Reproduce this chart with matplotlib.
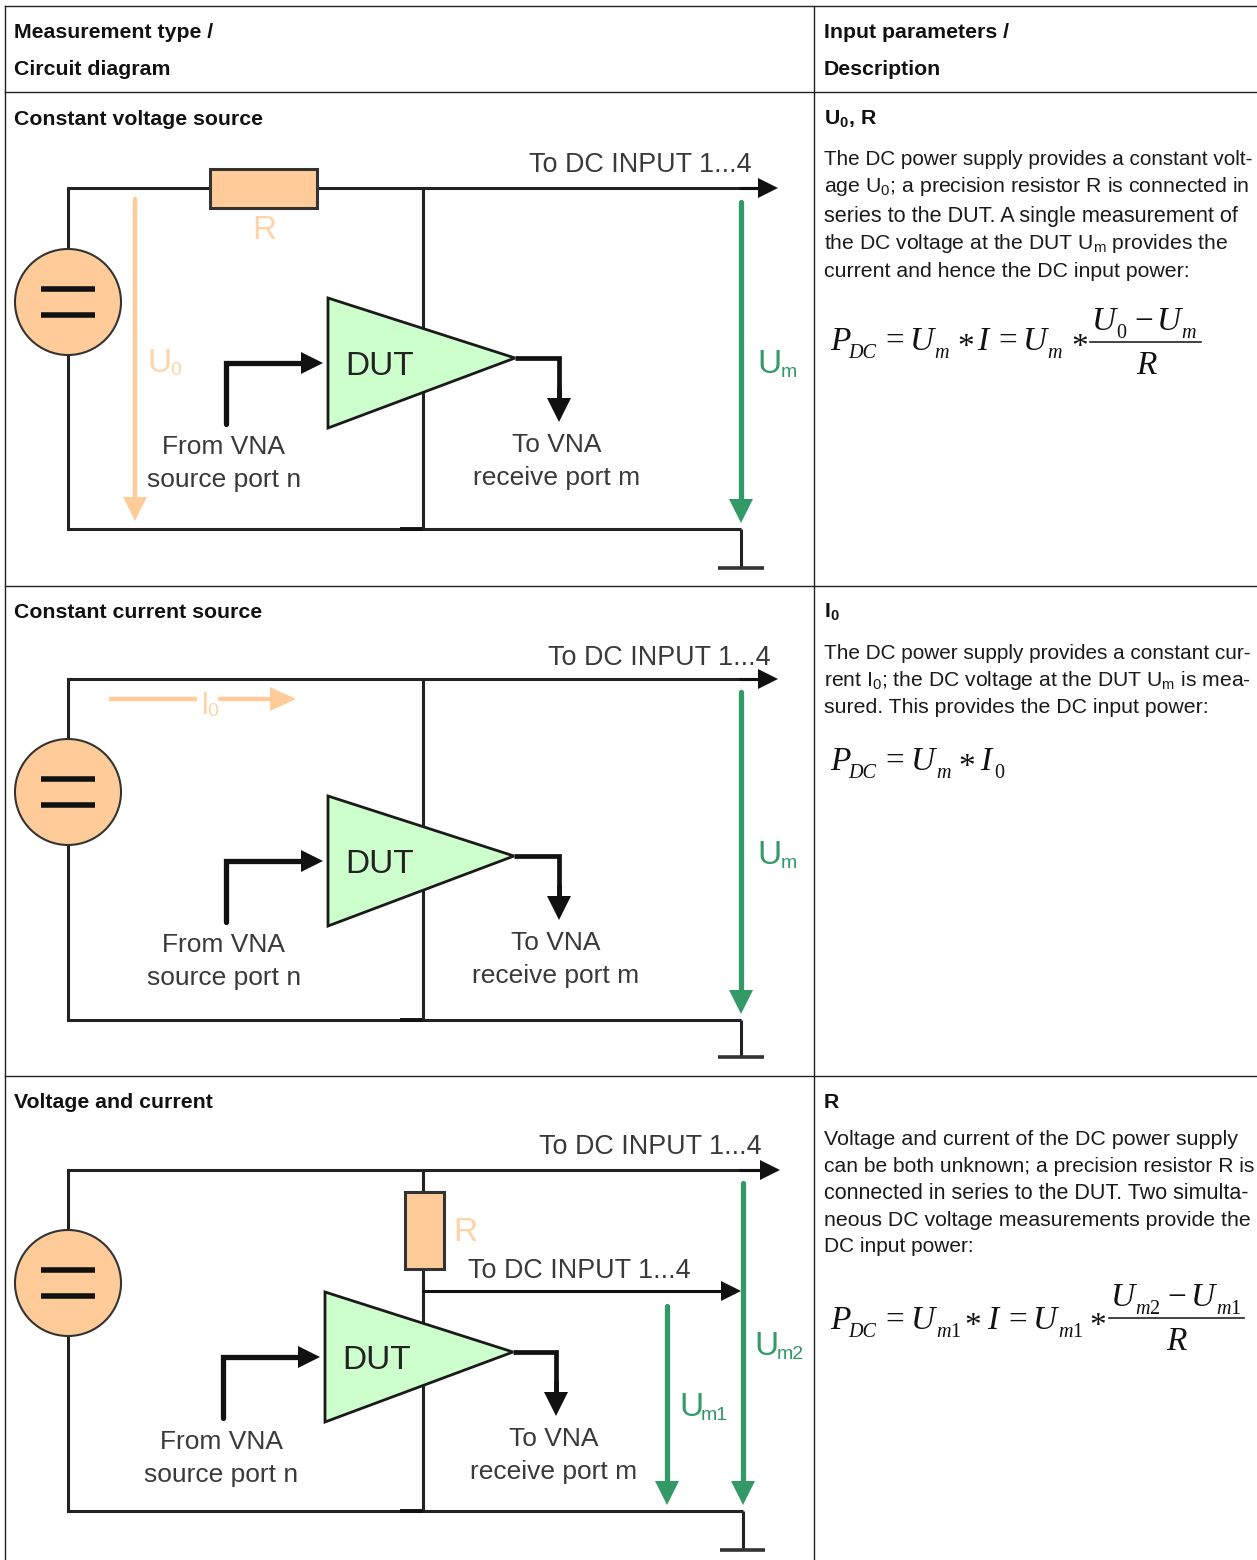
#!/usr/bin/env python3
"""DC power measurement table: three circuit diagrams with descriptions."""

import matplotlib
matplotlib.use('Agg')
import matplotlib.pyplot as plt
from matplotlib.patches import Circle, Polygon, Rectangle

plt.rcParams['font.family'] = ['Liberation Sans', 'DejaVu Sans']
plt.rcParams['mathtext.fontset'] = 'custom'
plt.rcParams['mathtext.rm'] = 'Liberation Sans'
plt.rcParams['mathtext.bf'] = 'Liberation Sans:bold'
plt.rcParams['mathtext.it'] = 'Liberation Sans:italic'

WIRE = '#222222'
ORANGE = '#FFCC99'
ORANGE_TXT = '#FFD3A8'
GREEN = '#CCFFCC'
DK_GREEN = '#339966'
LABEL = '#3A3A3A'

# Table text
head_left = ['Measurement type /', 'Circuit diagram']
head_right = ['Input parameters /', 'Description']
row_titles = ['Constant voltage source', 'Constant current source', 'Voltage and current']
row_params = [r'U$_{\mathbf{0}}$, R', r'I$_{\mathbf{0}}$', 'R']
desc_1 = ['The DC power supply provides a constant volt-',
          r'age U$_{\mathrm{0}}$; a precision resistor R is connected in',
          'series to the DUT. A single measurement of',
          r'the DC voltage at the DUT U$_{\mathrm{m}}$ provides the',
          'current and hence the DC input power:']
desc_1_y = [165, 192, 222, 249, 277]
desc_1_end = [1251, 1249, 1238, 1229, 1189]
desc_2 = ['The DC power supply provides a constant cur-',
          r'rent I$_{\mathrm{0}}$; the DC voltage at the DUT U$_{\mathrm{m}}$ is mea-',
          'sured. This provides the DC input power:']
desc_2_y = [659, 686, 713]
desc_2_end = [1251, 1251, 1209]
desc_3 = ['Voltage and current of the DC power supply',
          'can be both unknown; a precision resistor R is',
          'connected in series to the DUT. Two simulta-',
          'neous DC voltage measurements provide the',
          'DC input power:']
desc_3_y = [1145, 1172, 1199, 1226, 1252]
desc_3_end = [1237, 1252, 1250, 1251, 973]

# Formula pieces: x, baseline y, string, big or small, italic
eq_1 = [(830, 350, 'P', 'b', 1), (848, 358, 'DC', 's', 1), (885, 350, '=', 'b', 0),
        (910, 350, 'U', 'b', 1), (934, 358, 'm', 's', 1), (957, 356, '*', 'b', 0),
        (977, 350, 'I', 'b', 1), (998, 350, '=', 'b', 0), (1023, 350, 'U', 'b', 1),
        (1047, 358, 'm', 's', 1), (1071, 356, '*', 'b', 0), (1092, 330, 'U', 'b', 1),
        (1116, 338, '0', 's', 0), (1134, 330, '\u2212', 'b', 0), (1157, 330, 'U', 'b', 1),
        (1181, 338, 'm', 's', 1), (1136, 374, 'R', 'b', 1)]
eq_2 = [(830, 770, 'P', 'b', 1), (848, 778, 'DC', 's', 1), (885, 770, '=', 'b', 0),
        (911, 770, 'U', 'b', 1), (936, 778, 'm', 's', 1), (958, 776, '*', 'b', 0),
        (980, 770, 'I', 'b', 1), (994, 778, '0', 's', 0)]
eq_3 = [(830, 1329, 'P', 'b', 1), (848, 1337, 'DC', 's', 1), (885, 1329, '=', 'b', 0),
        (911, 1329, 'U', 'b', 1), (936, 1337, 'm', 's', 1), (950, 1337, '1', 's', 0),
        (964, 1335, '*', 'b', 0), (987, 1329, 'I', 'b', 1), (1008, 1329, '=', 'b', 0),
        (1033, 1329, 'U', 'b', 1), (1058, 1337, 'm', 's', 1), (1072, 1337, '1', 's', 0),
        (1089, 1335, '*', 'b', 0), (1111, 1306, 'U', 'b', 1), (1135, 1314, 'm', 's', 1),
        (1149, 1314, '2', 's', 0), (1167, 1306, '\u2212', 'b', 0), (1191, 1306, 'U', 'b', 1),
        (1216, 1314, 'm', 's', 1), (1230, 1314, '1', 's', 0), (1166, 1350, 'R', 'b', 1)]
eq_bars = [(1090, 1201, 342), (1109, 1244, 1318)]

fig = plt.figure(figsize=(12.57, 15.6), dpi=100)
ax = fig.add_axes([0, 0, 1, 1])
ax.set_xlim(0, 1257)
ax.set_ylim(1560, 0)
ax.axis('off')
renderer = fig.canvas.get_renderer()


def line(xs, ys, color=WIRE, lw=2.2, z=2, cap='butt'):
    ax.plot(xs, ys, color=color, lw=lw, zorder=z, solid_capstyle=cap, solid_joinstyle='miter')


def arrow(xs, ys, color=WIRE, lw=2.2, w=23, l=23, z=3):
    # polyline with a filled head on its last segment
    x0, y0, x1, y1 = xs[-2], ys[-2], xs[-1], ys[-1]
    if x1 == x0:
        s = 1 if y1 > y0 else -1
        head = [(x1, y1), (x1 - w / 2, y1 - s * l), (x1 + w / 2, y1 - s * l)]
        line(xs[:-1] + [x1], ys[:-1] + [y1 - s * (l - 2)], color, lw, z, 'round')
    else:
        s = 1 if x1 > x0 else -1
        head = [(x1, y1), (x1 - s * l, y1 - w / 2), (x1 - s * l, y1 + w / 2)]
        line(xs[:-1] + [x1 - s * (l - 2)], ys[:-1] + [y1], color, lw, z, 'round')
    ax.add_patch(Polygon(head, closed=True, fc=color, ec='none', zorder=z))


def label(x, y, s, color=LABEL, size=19, ha='center'):
    ax.text(x, y, s, color=color, fontsize=size, ha=ha, va='baseline', zorder=5)


def fitted(x, x_end, y, s):
    # the reference is justified line by line, so scale each line to its own right edge
    t = ax.text(x, y, s, fontsize=15.2, va='baseline', color='#1A1A1A')
    w = t.get_window_extent(renderer).width
    t.set_fontsize(15.2 * (x_end - x) / w)


def source(cy):
    line([68, 68], [cy - 53, cy + 53], z=1)
    ax.add_patch(Circle((68, cy), 53, fc=ORANGE, ec='#333333', lw=1.5, zorder=3))
    line([41, 95], [cy - 13, cy - 13], '#111111', 4.0, 4)
    line([41, 95], [cy + 13, cy + 13], '#111111', 4.0, 4)


def dut(x, ytop, xtip, port_x, out_x):
    yc = ytop + 60
    line([xtip, out_x, out_x], [yc, yc, yc + 40], '#111111', 3.4, 3)
    arrow([out_x, out_x], [yc + 30, yc + 64], '#111111', 3.4, 24, 24)
    arrow([port_x, port_x, x - 5], [ytop + 126, yc + 5, yc + 5], '#111111', 3.8, 22, 22)
    ax.add_patch(Polygon([(x, ytop), (xtip, yc), (x, ytop + 130)], closed=True,
                         fc=GREEN, ec='#1A1A1A', lw=2.0, zorder=4, joinstyle='miter'))
    label(x + 52, yc + 17, 'DUT', '#222222', 24)


def ports(x_from, y_from, x_to, y_to):
    label(x_from, y_from, 'From VNA')
    label(x_from, y_from + 33, 'source port n')
    label(x_to, y_to, 'To VNA')
    label(x_to, y_to + 33, 'receive port m')


def ground(x, y0, y1, x0, x2):
    line([x, x], [y0, y1])
    line([x0, x2], [y1, y1], '#333333', 2.6)


# Table grid
for xs, ys in [([5, 5], [6, 1560]), ([5, 1257], [6, 6]), ([814, 814], [6, 1560]),
               ([5, 1257], [92, 92]), ([5, 1257], [586, 586]), ([5, 1257], [1076, 1076])]:
    ax.plot(xs, ys, color='#222222', lw=1.0, zorder=1)

# Table text
for s, y in zip(head_left, [38, 75]):
    ax.text(14, y, s, fontsize=15.3, fontweight='bold', va='baseline', color='#111111')
for s, y in zip(head_right, [38, 75]):
    ax.text(823.5, y, s, fontsize=15.3, fontweight='bold', va='baseline', color='#111111')
for s, y in zip(row_titles, [125, 618, 1108]):
    ax.text(14, y, s, fontsize=15.3, fontweight='bold', va='baseline', color='#111111')
for s, y in zip(row_params, [125, 618, 1108]):
    ax.text(823.5, y, s, fontsize=15.3, fontweight='bold', va='baseline', color='#111111')
for lines, ys, ends in [(desc_1, desc_1_y, desc_1_end), (desc_2, desc_2_y, desc_2_end),
                        (desc_3, desc_3_y, desc_3_end)]:
    for s, y, x_end in zip(lines, ys, ends):
        fitted(823.5, x_end, y, s)

# Formulas
for eq in (eq_1, eq_2, eq_3):
    for x, y, s, kind, ital in eq:
        ax.text(x, y, s, family='Liberation Serif', style='italic' if ital else 'normal',
                fontsize=24 if kind == 'b' else 14.5, va='baseline', color='#111111')
for x0, x1, y in eq_bars:
    ax.plot([x0, x1], [y, y], color='#222222', lw=1.2)

# Panel 1: constant voltage source
line([68, 68, 210], [250, 188, 188])
line([317, 760], [188, 188])
arrow([740, 778], [188, 188], '#111111', 2.2, 20, 20)
line([68, 68, 741], [355, 529, 529])
line([400, 423], [529, 529], '#111111', 2.8)
line([423, 423], [188, 529])
ax.add_patch(Rectangle((210, 169), 107, 39, fc=ORANGE, ec='#333333', lw=2.2, zorder=3))
source(302)
arrow([135, 135], [199, 521], ORANGE, 3.2, 24, 24)
label(264, 239, 'R', ORANGE_TXT, 24)
label(147, 372, 'U', ORANGE_TXT, 24, 'left')
label(170, 375, '0', ORANGE_TXT, 14, 'left')
dut(328, 298, 515, 226, 559)
ports(224, 454, 557, 452)
label(640, 172, 'To DC INPUT 1...4', size=19.4)
arrow([741, 741], [202, 523], DK_GREEN, 3.8, 24, 24)
label(757, 373, 'U', DK_GREEN, 24, 'left')
label(781, 377, 'm', DK_GREEN, 14, 'left')
ground(741, 529, 568, 718, 764)

# Panel 2: constant current source
line([68, 68, 760], [739, 679, 679])
arrow([740, 778], [679, 679], '#111111', 2.2, 20, 20)
line([68, 68, 741], [845, 1020, 1020])
line([400, 423], [1020, 1020], '#111111', 2.8)
line([423, 423], [679, 1020])
source(792)
line([109, 197], [699, 699], ORANGE, 3.2)
arrow([220, 296], [699, 699], ORANGE, 3.2, 24, 26)
label(200, 714, 'I', ORANGE_TXT, 22, 'left')
label(207, 716, '0', ORANGE_TXT, 14, 'left')
dut(328, 796, 514, 226, 559)
ports(224, 952, 556, 950)
label(659, 665, 'To DC INPUT 1...4', size=19.4)
arrow([741, 741], [692, 1014], DK_GREEN, 3.8, 24, 24)
label(757, 864, 'U', DK_GREEN, 24, 'left')
label(781, 868, 'm', DK_GREEN, 14, 'left')
ground(741, 1020, 1057, 718, 764)

# Panel 3: voltage and current
line([68, 68, 760], [1230, 1170, 1170])
arrow([740, 780], [1170, 1170], '#111111', 2.2, 20, 20)
line([68, 68, 743], [1336, 1511, 1511])
line([400, 423], [1511, 1511], '#111111', 2.8)
line([423, 423], [1170, 1511])
ax.add_patch(Rectangle((405, 1192), 39, 77, fc=ORANGE, ec='#333333', lw=2.2, zorder=3))
label(453, 1241, 'R', ORANGE_TXT, 24, 'left')
arrow([423, 741], [1291, 1291], '#111111', 2.2, 20, 20)
source(1283)
dut(325, 1292, 513, 223, 556)
ports(221, 1449, 554, 1446)
label(468, 1278, 'To DC INPUT 1...4', size=19.4, ha='left')
label(650, 1154, 'To DC INPUT 1...4', size=19.4)
arrow([667, 667], [1306, 1505], DK_GREEN, 3.8, 24, 24)
arrow([743, 743], [1183, 1505], DK_GREEN, 3.8, 24, 24)
label(679, 1416, 'U', DK_GREEN, 24, 'left')
label(701, 1420, 'm1', DK_GREEN, 14, 'left')
label(754, 1355, 'U', DK_GREEN, 24, 'left')
label(777, 1359, 'm2', DK_GREEN, 14, 'left')
ground(743, 1511, 1550, 720, 765)

fig.savefig('out.png', dpi=100, facecolor='white')
